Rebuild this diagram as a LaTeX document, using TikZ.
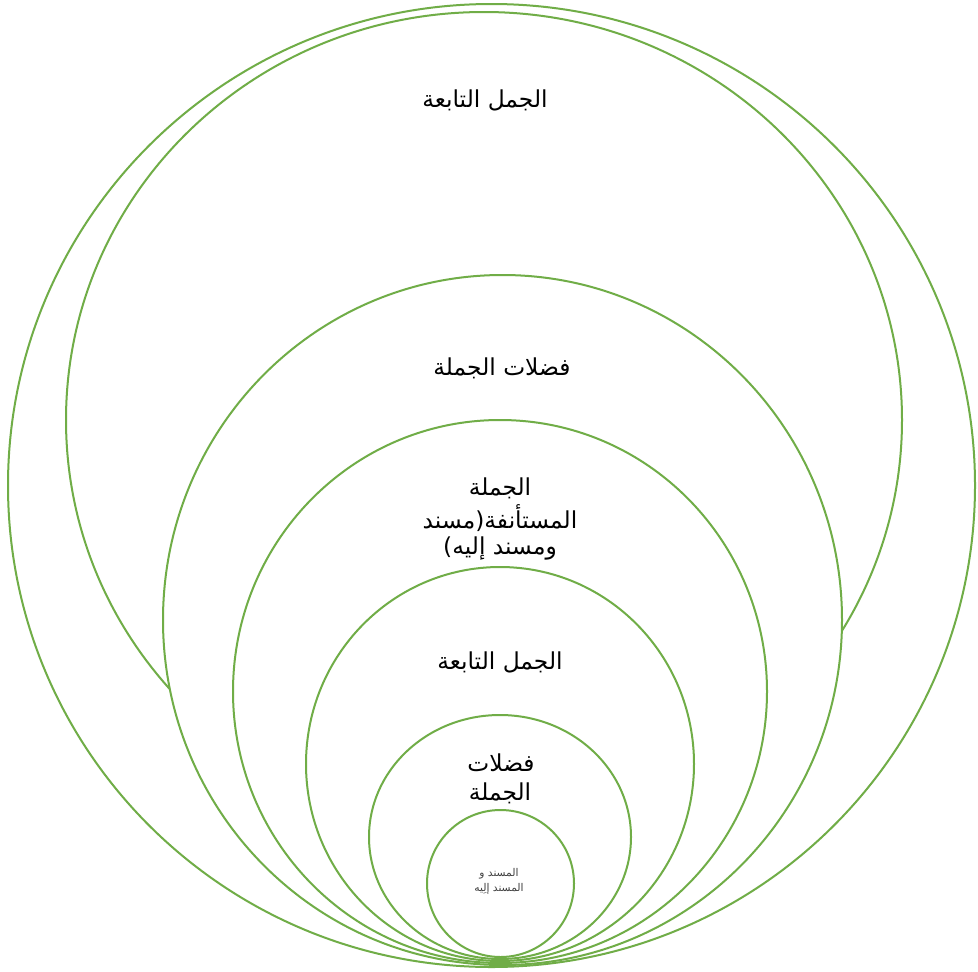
\documentclass[tikz,border=0pt]{standalone}
\usepackage{fontspec}
\TeXXeTstate=1
\newfontfamily\arabicfont[Script=Arabic]{DejaVu Sans}
\definecolor{ringgreen}{RGB}{112,173,71}
\definecolor{smallgray}{RGB}{64,64,64}
\tikzset{
  ring/.style={draw=ringgreen, line width=1.5pt, fill=white},
  bigtext/.style={font=\arabicfont\fontsize{17.5}{23}\selectfont, text=black, align=center, inner sep=0pt},
  smalltext/.style={font=\arabicfont\fontsize{8}{9}\selectfont, text=smallgray, align=center, inner sep=0pt}
}
\begin{document}
\begin{tikzpicture}[x=0.75pt,y=0.75pt]
\useasboundingbox (0,0) rectangle (978,-971);
\fill[white] (0,0) rectangle (978,-971);
% rings, largest first, each filled white over the previous
\draw[ring] (491.5,-485.5) ellipse [x radius=483.5, y radius=481.5];
\draw[ring] (484,-420) ellipse [x radius=418, y radius=408];
\draw[ring] (502.5,-620) ellipse [x radius=339.5, y radius=345];
\draw[ring] (500,-691.5) ellipse [x radius=267, y radius=271.5];
\draw[ring] (500,-764) ellipse [x radius=194, y radius=197];
\draw[ring] (500,-837) ellipse [x radius=131, y radius=122];
\draw[ring] (500.5,-883.5) ellipse [x radius=73.5, y radius=73.5];
% labels
\node[bigtext] (t1) at (485,-100) {\beginR الجمل التابعة\endR};
\node[bigtext] (t2) at (502,-368) {\beginR فضلات الجملة\endR};
\node[bigtext] (t3a) at (500,-488) {\beginR الجملة\endR};
\node[bigtext] (t3b) at (500,-518) {\beginR المستأنفة(مسند\endR};
\node[bigtext] (t3c) at (500,-548) {\beginR ومسند إليه)\endR};
\node[bigtext] (t4) at (500,-662) {\beginR الجمل التابعة\endR};
\node[bigtext] (t5a) at (501,-763) {\beginR فضلات\endR};
\node[bigtext] (t5b) at (500,-793) {\beginR الجملة\endR};
\node[smalltext] (t6a) at (499,-874) {\beginR المسند و\endR};
\node[smalltext] (t6b) at (499,-889) {\beginR المسند إلِيه\endR};
\end{tikzpicture}
\end{document}
